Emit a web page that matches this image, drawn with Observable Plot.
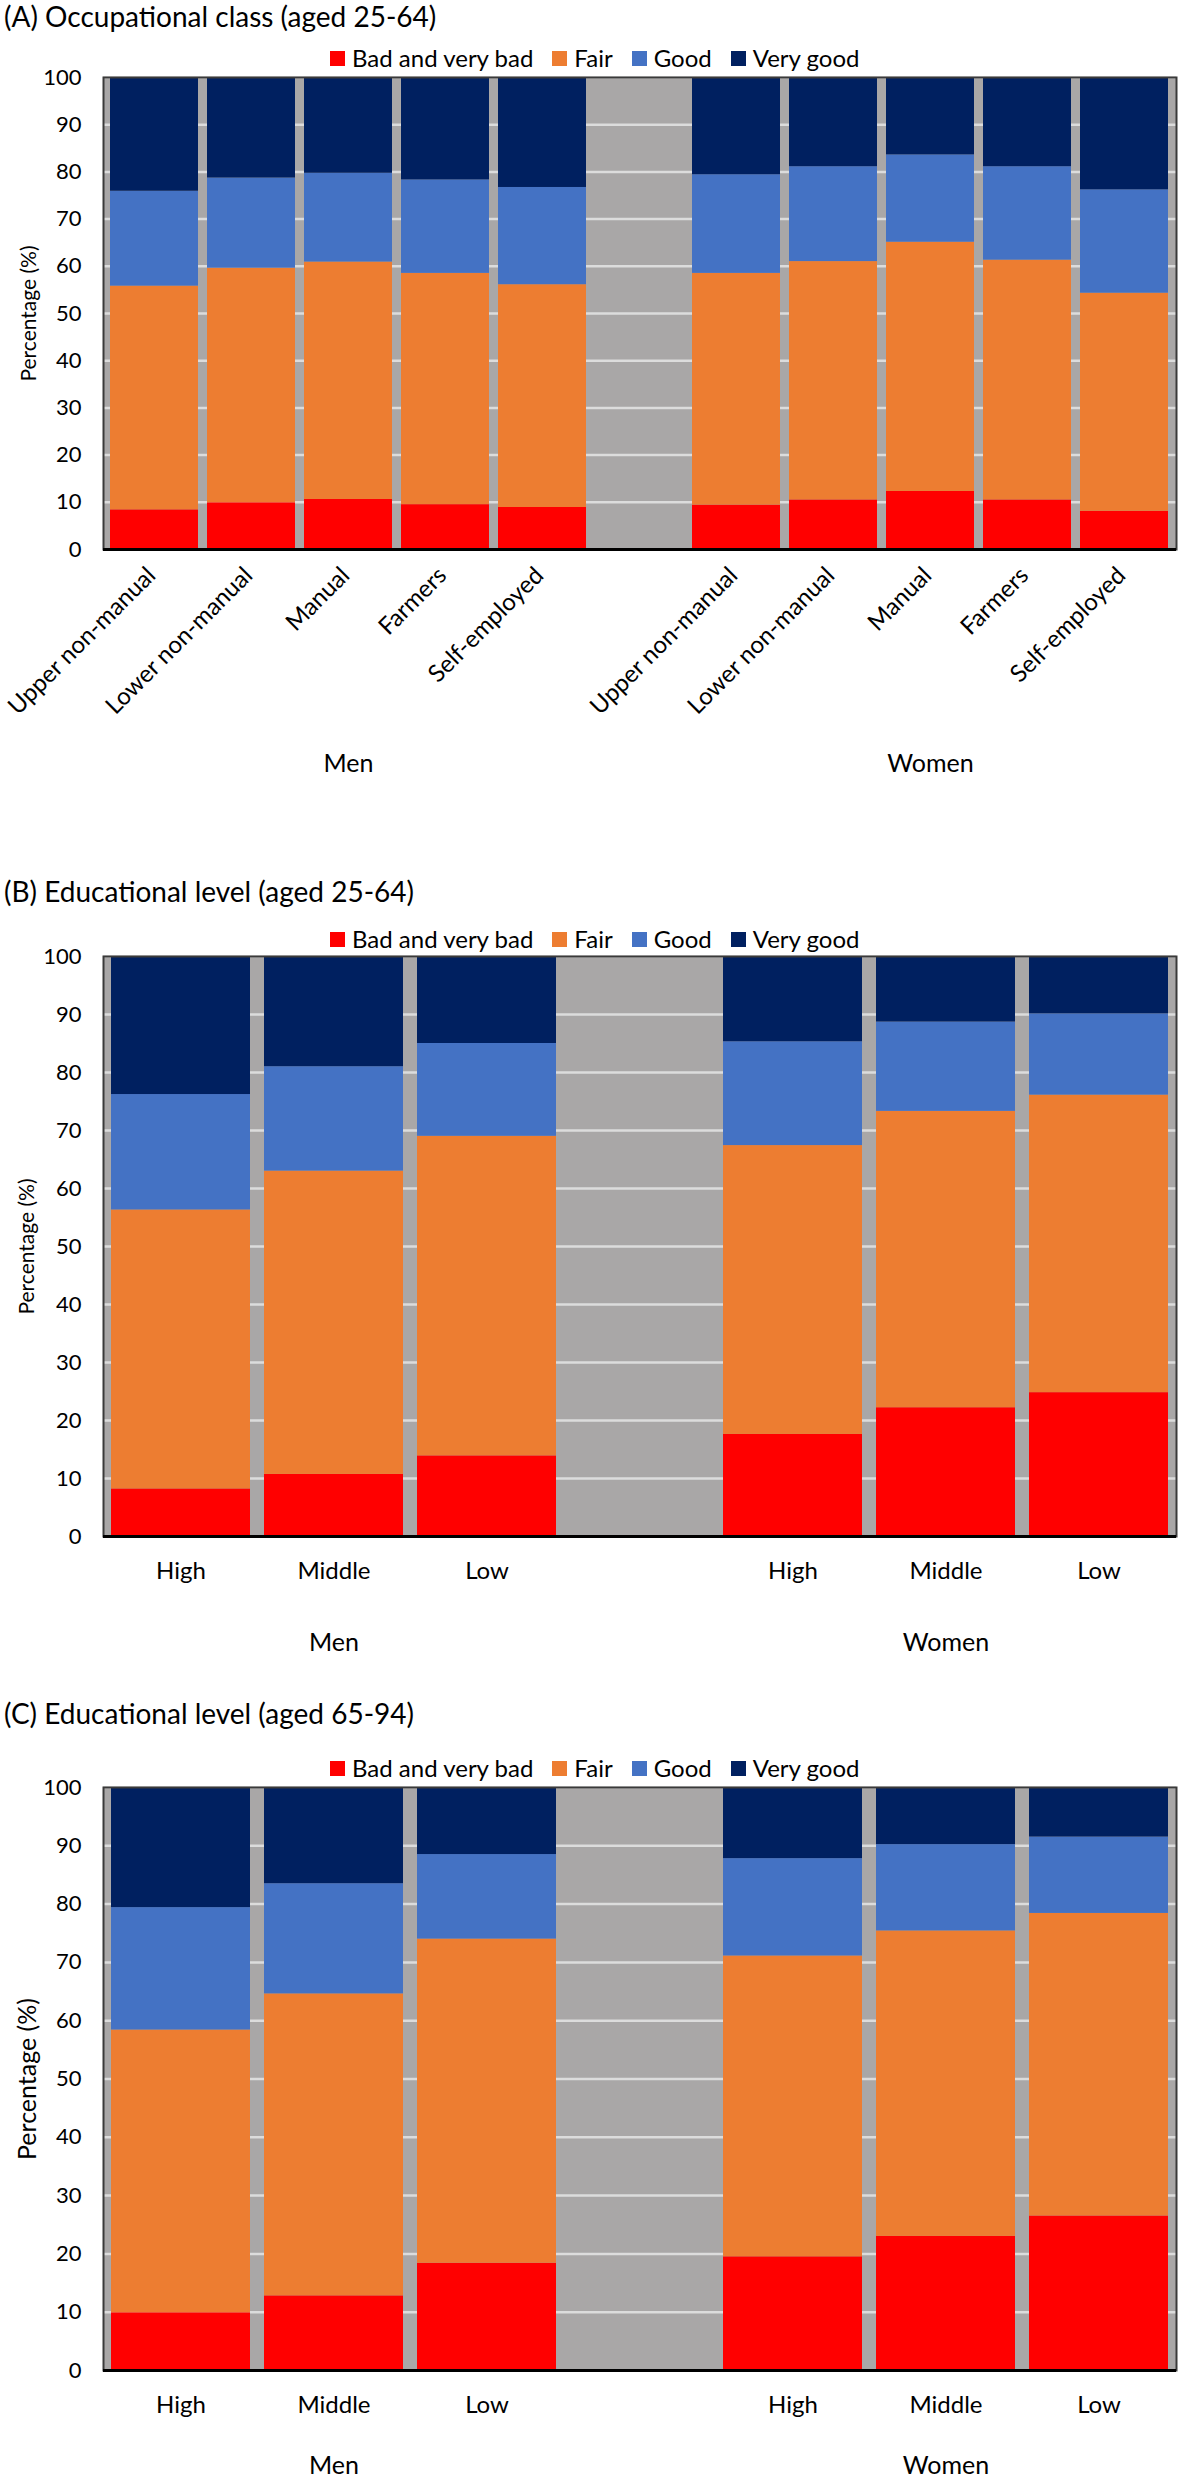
<!DOCTYPE html>
<html><head><meta charset="utf-8">
<script src="https://cdn.jsdelivr.net/npm/d3@7"></script>
<script src="https://cdn.jsdelivr.net/npm/@observablehq/plot@0.6"></script>
<style>
body{margin:0;background:#fff;font-family:Lato,"Open Sans",sans-serif;color:#000;}
#page{position:relative;width:1180px;height:2481px;overflow:hidden;background:#fff;}
.title{position:absolute;left:4px;font-size:28px;white-space:nowrap;line-height:1.1;}
.legend{position:absolute;left:330px;display:flex;align-items:center;font-size:24px;line-height:1;white-space:nowrap;}
.legend .item{display:flex;align-items:center;margin-right:19px;}
.legend .sw{width:15px;height:15px;margin-right:7px;}
.panel{position:absolute;left:0;}
</style></head><body><div id="page"></div>
<script>
// ---- categories ----
const healthLevels = ["Bad and very bad", "Fair", "Good", "Very good"];
const healthColors = ["#FF0000", "#ED7D31", "#4472C4", "#002060"];
const sexes = ["Men", "Women"];
const occClasses = ["Upper non-manual", "Lower non-manual", "Manual", "Farmers", "Self-employed"];
const eduLevels = ["High", "Middle", "Low"];
const yTicks = [0, 10, 20, 30, 40, 50, 60, 70, 80, 90, 100];

// ---- (A) Occupational class, aged 25-64 : shares (%) ----
const occMenBad      = [8.4, 9.9, 10.6, 9.5, 8.9];
const occMenFair     = [47.4, 49.7, 50.3, 49.0, 47.2];
const occMenGood     = [20.1, 19.1, 18.8, 19.8, 20.6];
const occMenVeryGood = [24.1, 21.3, 20.3, 21.7, 23.3];
const occWomenBad      = [9.4, 10.5, 12.3, 10.5, 8.1];
const occWomenFair     = [49.1, 50.5, 52.8, 50.8, 46.2];
const occWomenGood     = [20.9, 20.1, 18.5, 19.8, 21.9];
const occWomenVeryGood = [20.6, 18.9, 16.4, 18.9, 23.8];

// ---- (B) Educational level, aged 25-64 ----
const edyMenBad      = [8.2, 10.7, 13.9];
const edyMenFair     = [48.1, 52.3, 55.1];
const edyMenGood     = [19.9, 18.0, 16.0];
const edyMenVeryGood = [23.8, 19.0, 15.0];
const edyWomenBad      = [17.6, 22.2, 24.8];
const edyWomenFair     = [49.8, 51.1, 51.3];
const edyWomenGood     = [17.9, 15.4, 14.0];
const edyWomenVeryGood = [14.7, 11.3, 9.9];

// ---- (C) Educational level, aged 65-94 ----
const edoMenBad      = [9.9, 12.8, 18.4];
const edoMenFair     = [48.5, 51.8, 55.6];
const edoMenGood     = [21.0, 18.9, 14.5];
const edoMenVeryGood = [20.6, 16.5, 11.5];
const edoWomenBad      = [19.5, 23.0, 26.5];
const edoWomenFair     = [51.6, 52.4, 51.9];
const edoWomenGood     = [16.7, 14.8, 13.1];
const edoWomenVeryGood = [12.2, 9.8, 8.5];

const panels = [
  {title: "(A) Occupational class (aged 25-64)", cats: occClasses,
   values: {Men: [occMenBad, occMenFair, occMenGood, occMenVeryGood], Women: [occWomenBad, occWomenFair, occWomenGood, occWomenVeryGood]},
   titleY: 16, legendY: 58, plotTop: 77, plotBottom: 549, groupY: 763, rotate: true, yTitleSize: 21, yTitleX: 29},
  {title: "(B) Educational level (aged 25-64)", cats: eduLevels,
   values: {Men: [edyMenBad, edyMenFair, edyMenGood, edyMenVeryGood], Women: [edyWomenBad, edyWomenFair, edyWomenGood, edyWomenVeryGood]},
   titleY: 891, legendY: 939, plotTop: 956, plotBottom: 1536, labelY: 1571, groupY: 1642, rotate: false, yTitleSize: 21, yTitleX: 27},
  {title: "(C) Educational level (aged 65-94)", cats: eduLevels,
   values: {Men: [edoMenBad, edoMenFair, edoMenGood, edoMenVeryGood], Women: [edoWomenBad, edoWomenFair, edoWomenGood, edoWomenVeryGood]},
   titleY: 1713, legendY: 1768, plotTop: 1787, plotBottom: 2370, labelY: 2405, groupY: 2465, rotate: false, yTitleSize: 25, yTitleX: 27}
];

const page = document.getElementById("page");
const FONT = "Lato, 'Open Sans', sans-serif";

for (const p of panels) {
  // title
  const t = document.createElement("div");
  t.className = "title";
  t.textContent = p.title;
  t.style.top = (p.titleY - 15) + "px";
  page.appendChild(t);

  // legend
  const lg = document.createElement("div");
  lg.className = "legend";
  lg.style.top = (p.legendY - 12) + "px";
  healthLevels.forEach((h, i) => {
    const it = document.createElement("div");
    it.className = "item";
    const sw = document.createElement("span");
    sw.className = "sw";
    sw.style.background = healthColors[i];
    const tx = document.createElement("span");
    tx.textContent = h;
    it.appendChild(sw); it.appendChild(tx);
    lg.appendChild(it);
  });
  page.appendChild(lg);

  // data
  const keys = [...p.cats.map(c => "Men|" + c), "gap", ...p.cats.map(c => "Women|" + c)];
  const rows = [];
  for (const s of sexes) {
    p.cats.forEach((c, ci) => {
      healthLevels.forEach((h, hi) => {
        rows.push({key: s + "|" + c, level: h, value: p.values[s][hi][ci]});
      });
    });
  }
  const catKeys = keys.filter(k => k !== "gap");
  const mid = p.cats[Math.floor(p.cats.length / 2)];

  const mTop = 4;
  const plotH = p.plotBottom - p.plotTop;
  const mBottom = p.groupY - p.plotBottom + 26;

  const marks = [
    Plot.frame({fill: "#A9A7A7", stroke: null}),
    Plot.gridY(yTicks, {stroke: "#DCDCDC", strokeOpacity: 1, strokeWidth: 2.5}),
    Plot.barY(rows, {x: "key", y: "value", fill: "level", order: healthLevels}),
    Plot.frame({stroke: "#3a3a3a", strokeWidth: 2}),
    Plot.ruleY([0], {stroke: "#000", strokeWidth: 3}),
    Plot.axisY({ticks: yTicks, tickSize: 0, tickPadding: 22, fontSize: 22, label: null}),
    Plot.text(["Percentage (%)"], {frameAnchor: "left", dx: -(103 - p.yTitleX), rotate: -90, text: d => d,
      fontSize: p.yTitleSize, textAnchor: "middle", lineAnchor: "middle"}),
    Plot.text(sexes, {x: s => s + "|" + mid, text: d => d, frameAnchor: "bottom",
      dy: p.groupY - p.plotBottom, fontSize: 25, lineAnchor: "middle"})
  ];
  if (p.rotate) {
    marks.push(Plot.text(catKeys, {x: d => d, text: d => d.split("|")[1], frameAnchor: "bottom",
      dy: 22, dx: -3, rotate: -45, textAnchor: "end", lineAnchor: "middle", fontSize: 24}));
  } else {
    marks.push(Plot.text(catKeys, {x: d => d, text: d => d.split("|")[1], frameAnchor: "bottom",
      dy: p.labelY - p.plotBottom, lineAnchor: "middle", fontSize: 24}));
  }

  const chart = Plot.plot({
    width: 1180,
    height: mTop + plotH + mBottom,
    marginTop: mTop,
    marginBottom: mBottom,
    marginLeft: 103,
    marginRight: 4,
    style: {fontFamily: FONT, color: "#000", background: "transparent", overflow: "visible"},
    x: {domain: keys, paddingInner: 0.09, paddingOuter: 0.045, axis: null},
    y: {domain: [0, 100]},
    color: {domain: healthLevels, range: healthColors},
    marks
  });
  const wrap = document.createElement("div");
  wrap.className = "panel";
  wrap.style.top = (p.plotTop - mTop) + "px";
  wrap.appendChild(chart);
  page.appendChild(wrap);
}
</script>
</body></html>
